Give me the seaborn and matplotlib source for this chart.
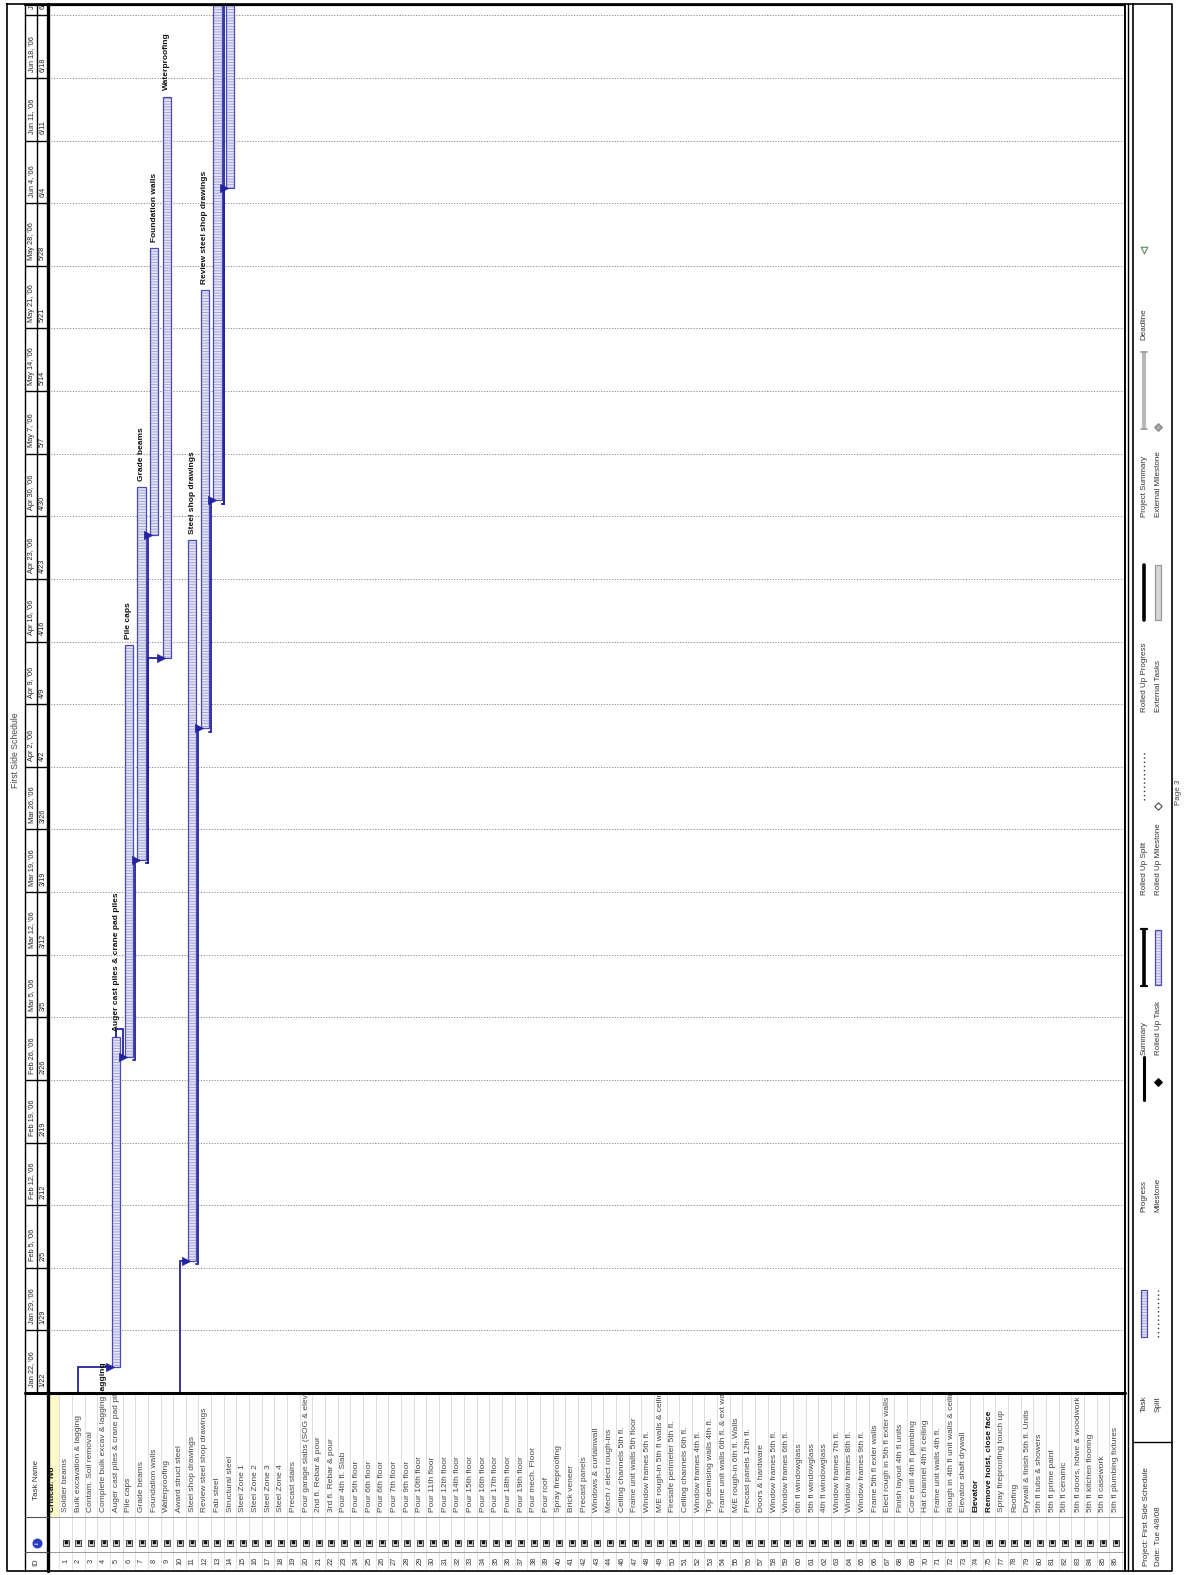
import numpy as np
import pandas as pd
import matplotlib
matplotlib.use("Agg")
import matplotlib.pyplot as plt
import seaborn as sns
from matplotlib.patches import Rectangle

# ---------------- data ----------------
group_label = "Critical: No"
task_ids = list(range(1, 44)) + [44] + list(range(46, 76)) + list(range(77, 87))
task_names = [
    "Soldier beams", "Bulk excavation & lagging", "Contam. Soil removal",
    "Complete bulk excav & lagging", "Auger cast piles & crane pad piles",
    "Pile caps", "Grade beams", "Foundation walls", "Waterproofing",
    "Award struct steel", "Steel shop drawings", "Review steel shop drawings",
    "Fab steel", "Structural steel", "Steel Zone 1", "Steel Zone 2",
    "Steel Zone 3", "Steel Zone 4", "Precast stairs",
    "Pour garage slabs (SOG & elevated)", "2nd fl. Rebar & pour",
    "3rd fl. Rebar & pour", "Pour 4th fl. Slab", "Pour 5th floor",
    "Pour 6th floor", "Pour 6th floor", "Pour 7th floor", "Pour 9th floor",
    "Pour 10th floor", "Pour 11th floor", "Pour 12th floor", "Pour 14th floor",
    "Pour 15th floor", "Pour 16th floor", "Pour 17th floor", "Pour 18th floor",
    "Pour 19th floor", "Pour mech. Floor", "Pour roof", "Spray fireproofing",
    "Brick veneer", "Precast panels", "Windows & curtainwall",
    "Mech / elect rough-ins",
    "Ceiling channels 5th fl.", "Frame unit walls 5th floor",
    "Window frames 5th fl.", "M/E rough-in 5th fl walls & ceilings",
    "Firesafe perimeter 5th fl.", "Ceiling channels 6th fl.",
    "Window frames 4th fl.", "Top demising walls 4th fl.",
    "Frame unit walls 6th fl. & ext walls", "M/E rough-in 6th fl. Walls",
    "Precast panels 12th fl.", "Doors & hardware", "Window frames 5th fl.",
    "Window frames 6th fl.", "6th fl windowglass", "5th fl windowglass",
    "4th fl windowglass", "Window frames 7th fl.", "Window frames 8th fl.",
    "Window frames 9th fl.", "Frame 5th fl exter walls",
    "Elect rough in 5th fl exter walls", "Finish layout 4th fl units",
    "Core drill 4th fl plumbing", "Hat channel 4th fl ceiling",
    "Frame unit walls 4th fl.", "Rough in 4th fl unit walls & ceilings",
    "Elevator shaft drywall", "Elevator", "Remove hoist, close face",
    "Spray fireproofing touch up", "Roofing", "Drywall & finish 5th fl. Units",
    "5th fl tubs & showers", "5th fl prime paint", "5th fl ceramic",
    "5th fl doors, hdwe & woodwork", "5th fl kitchen flooring",
    "5th fl casework", "5th fl plumbing fixtures",
]
bold_ids = [74, 75]
assert len(task_ids) == len(task_names)

# timescale (weekly)
week_dates = ["2006-01-22", "2006-01-29", "2006-02-05", "2006-02-12", "2006-02-19",
              "2006-02-26", "2006-03-05", "2006-03-12", "2006-03-19", "2006-03-26",
              "2006-04-02", "2006-04-09", "2006-04-16", "2006-04-23", "2006-04-30",
              "2006-05-07", "2006-05-14", "2006-05-21", "2006-05-28", "2006-06-04",
              "2006-06-11", "2006-06-18", "2006-06-25"]
week_major = ["Jan 22, '06", "Jan 29, '06", "Feb 5, '06", "Feb 12, '06", "Feb 19, '06",
              "Feb 26, '06", "Mar 5, '06", "Mar 12, '06", "Mar 19, '06", "Mar 26, '06",
              "Apr 2, '06", "Apr 9, '06", "Apr 16, '06", "Apr 23, '06", "Apr 30, '06",
              "May 7, '06", "May 14, '06", "May 21, '06", "May 28, '06", "Jun 4, '06",
              "Jun 11, '06", "Jun 18, '06", "Jun 25, '06"]
week_minor = ["1/22", "1/29", "2/5", "2/12", "2/19", "2/26", "3/5", "3/12", "3/19",
              "3/26", "4/2", "4/9", "4/16", "4/23", "4/30", "5/7", "5/14", "5/21",
              "5/28", "6/4", "6/11", "6/18", "6/25"]

# task bars: start / finish in days after Jan 22 '06 (estimated)
bar_ids = [2, 5, 6, 7, 8, 9, 10, 11, 12, 13, 14, 15]
bar_start = [-60, 2.9, 37.6, 59.6, 95.9, 82.2, -50, 14.8, 74.3, 99.8, 134.7, 170]
bar_finish = [-25, 39.8, 83.6, 101.3, 128.0, 144.9, -20, 95.3, 123.3, 185, 205, 190]

# milestone before the visible range
ms_ids = [4]
ms_day = [-11.3]

# dependency links
link_pred = [2, 10, 5, 6, 7, 7, 11, 12, 13, 13]
link_succ = [5, 11, 6, 7, 8, 9, 12, 13, 14, 15]
link_type = ["FS", "FS", "FS", "SS", "SS", "SS", "SS", "SS", "SS", "SS"]

legend_items = ["Task", "Split", "Progress", "Milestone", "Summary", "Rolled Up Task",
                "Rolled Up Split", "Rolled Up Milestone", "Rolled Up Progress",
                "External Tasks", "Project Summary", "External Milestone", "Deadline"]
title_text = "First Side Schedule"
project_text = "Project: First Side Schedule"
date_text = "Date: Tue 4/8/08"
page_text = "Page 3"

# ---------------- style ----------------
sns.set_theme(style="white")
plt.rcParams["font.family"] = ["Liberation Sans", "DejaVu Sans"]
plt.rcParams["hatch.linewidth"] = 0.6

W, H = 1187, 1575
fig = plt.figure(figsize=(W / 100, H / 100), dpi=100)
fig.patch.set_facecolor("white")


def rect(x0, y0, x1, y1):
    return [x0 / W, 1 - y1 / H, (x1 - x0) / W, (y1 - y0) / H]


CH_L, CH_R, CH_T, CH_B = 48, 1125, 5, 1393
ROW0_PX, ROW_PX = 53, 12.65
DAY_PX = 8.946
XLO = (CH_L - ROW0_PX) / ROW_PX
XHI = (CH_R - ROW0_PX) / ROW_PX
YHI = (CH_B - CH_T) / DAY_PX

rows = [group_label] + task_names
rowpos = {tid: i + 1 for i, tid in enumerate(task_ids)}
name_of = dict(zip(task_ids, task_names))
t0 = pd.Timestamp(week_dates[0])
week_days = [(pd.Timestamp(d) - t0).days for d in week_dates]

BAR_FACE = "#e3e3f7"
BAR_HATCH = "#9d9dd9"
BAR_EDGE = "#4b4bb0"
LINK = "#2323a0"

# ---------------- gantt area ----------------
ax = fig.add_axes(rect(CH_L, CH_T, CH_R, CH_B))
ax.set_xlim(XLO, XHI)
ax.set_ylim(0, YHI)
ax.axis("off")
for d in week_days[1:]:
    ax.axhline(d, color="#8a8a8a", lw=0.7, ls=(0, (1.2, 1.6)), zorder=1)

bx = np.array([rowpos[i] for i in bar_ids], dtype=float)
bs = np.array(bar_start, dtype=float)
bf = np.array(bar_finish, dtype=float)
BW = 0.66
ax.bar(bx, bf - bs, bottom=bs, width=BW, color=BAR_FACE, edgecolor=BAR_HATCH,
       linewidth=0, hatch="------", zorder=3)
ax.bar(bx, bf - bs, bottom=bs, width=BW, fill=False, edgecolor=BAR_EDGE,
       linewidth=0.9, zorder=4)

for tid, fin in zip(bar_ids, bar_finish):
    if 0 < fin < YHI - 2:
        ax.text(rowpos[tid], fin + 0.7, name_of[tid], rotation=90,
                rotation_mode="anchor", ha="left", va="center", fontsize=6,
                fontweight="bold", color="#111", clip_on=True, zorder=6)
for tid, d in zip(ms_ids, ms_day):
    ax.scatter([rowpos[tid]], [d], marker="D", s=20, color="black", zorder=6)
    ax.text(rowpos[tid], d + 0.7, name_of[tid], rotation=90, rotation_mode="anchor",
            ha="left", va="center", fontsize=6, fontweight="bold", color="#111",
            clip_on=True, zorder=6)

start_of = dict(zip(bar_ids, bar_start))
finish_of = dict(zip(bar_ids, bar_finish))
arr_x, arr_y = [], []
for p, s, t in zip(link_pred, link_succ, link_type):
    xp, xs = rowpos[p], rowpos[s]
    sp, fp, ss = start_of[p], finish_of[p], start_of[s]
    if t == "FS" and ss > fp + 1:
        path = [(xp, fp), (xp, ss), (xs - BW / 2, ss)]
    elif t == "FS":
        path = [(xp, fp), (xp, fp + 0.9), (xp + 0.5, fp + 0.9), (xp + 0.5, ss),
                (xs - BW / 2, ss)]
    else:
        path = [(xp + BW / 2, sp - 0.4), (xp + 0.5, sp - 0.4), (xp + 0.5, ss),
                (xs - BW / 2, ss)]
    px, py = zip(*path)
    ax.plot(px, py, color=LINK, lw=1.3, zorder=5, solid_joinstyle="miter")
    arr_x.append(xs - BW / 2 - 0.13)
    arr_y.append(ss)
sns.scatterplot(x=arr_x, y=arr_y, marker=">", s=34, color=LINK, edgecolor=LINK,
                linewidth=0.5, ax=ax, zorder=7, legend=False)
ax.set_xlim(XLO, XHI)
ax.set_ylim(0, YHI)
ax.axis("off")

# ---------------- timescale header ----------------
hx = fig.add_axes(rect(25, CH_T, CH_L, CH_B))
hx.set_xlim(0, 1)
hx.set_ylim(0, YHI)
hx.axis("off")
for d in week_days:
    hx.axhline(d, color="black", lw=1.0)
hx.axvline(0.52, color="black", lw=1.0)
for d, mj, mn in zip(week_days, week_major, week_minor):
    hx.text(0.27, d + 0.7, mj, rotation=90, rotation_mode="anchor", ha="left",
            va="center", fontsize=5.3, color="#222", clip_on=True)
    hx.text(0.77, d + 0.7, mn, rotation=90, rotation_mode="anchor", ha="left",
            va="center", fontsize=5.3, color="#222", clip_on=True)

# ---------------- task table ----------------
TB_T, NAME_B, ICON_B, TB_B = CH_B, 1517, 1552, 1570
tx = fig.add_axes(rect(CH_L, TB_T, CH_R, TB_B))
tx.set_xlim(XLO, XHI)
tx.set_ylim(TB_B, TB_T)
tx.axis("off")
tx.add_patch(Rectangle((-0.5, TB_T), 1.0, NAME_B - TB_T, facecolor="#fcf9c8",
                       edgecolor="none", zorder=0))
for k in range(len(rows)):
    tx.plot([k + 0.5, k + 0.5], [TB_T, TB_B], color="#d2d2d2", lw=0.5, zorder=1)
tx.axhline(NAME_B, color="#9a9a9a", lw=0.7)
tx.axhline(ICON_B, color="#9a9a9a", lw=0.7)
for tid in task_ids:
    k = rowpos[tid]
    tx.text(k, 1561, str(tid), rotation=90, ha="center", va="center",
            fontsize=5.3, color="#333")
ic_x = [rowpos[t] for t in task_ids]
tx.scatter(ic_x, [1543] * len(ic_x), marker="s", s=20, facecolor="#d4d4d4",
           edgecolor="#333", linewidths=0.6, zorder=3)
tx.scatter(ic_x, [1541.5] * len(ic_x), marker="s", s=3, color="#111", zorder=4)

nx = fig.add_axes(rect(CH_L, TB_T, CH_R, NAME_B))
nx.set_xlim(XLO, XHI)
nx.set_ylim(NAME_B, TB_T)
nx.axis("off")
for k, nm in enumerate(rows):
    tid = task_ids[k - 1] if k > 0 else None
    bold = (k == 0) or (tid in bold_ids)
    nx.text(k, NAME_B - 5, nm, rotation=90, rotation_mode="anchor", ha="left",
            va="center", fontsize=6, color="#111" if bold else "#444",
            fontweight="bold" if bold else "normal", clip_on=True)

# ---------------- overlay: frames, headers, legend ----------------
ov = fig.add_axes([0, 0, 1, 1])
ov.set_xlim(0, W)
ov.set_ylim(H, 0)
ov.axis("off")
ov.patch.set_alpha(0)
ov.set_zorder(10)

L, R, T, B = 7, 1172, 4, 1571
ov.plot([L, R, R, L, L], [T, T, B, B, T], color="black", lw=1.2)
ov.plot([25, 25], [T, B], color="black", lw=1.0)
ov.plot([CH_L, CH_L], [T, B], color="black", lw=2.4)
ov.plot([25, CH_R], [CH_B, CH_B], color="black", lw=2.2)
ov.plot([25, CH_R], [T + 1, T + 1], color="black", lw=1.6)
ov.plot([CH_R, CH_R], [T, B], color="black", lw=1.4)
ov.plot([CH_R + 3, CH_R + 3], [T, B], color="black", lw=1.0)
ov.plot([1133, 1133], [T, B], color="black", lw=1.2)
ov.plot([25, CH_L], [NAME_B, NAME_B], color="#555", lw=0.8)
ov.plot([25, CH_L], [ICON_B, ICON_B], color="#555", lw=0.8)

# table column headers
ov.text(36, 1562, "ID", rotation=90, ha="center", va="center", fontsize=5.5, color="#333")
ov.scatter([37], [1543], s=38, color="#2a3cc0", zorder=3)
ov.text(37, 1543, "i", rotation=90, ha="center", va="center", fontsize=4.5,
        color="white", fontweight="bold", zorder=4)
ov.text(36, 1500, "Task Name", rotation=90, rotation_mode="anchor", ha="left",
        va="center", fontsize=5.8, color="#333")

# title and page number
ov.text(16, 750, title_text, rotation=90, ha="center", va="center", fontsize=6.2,
        color="#444")
ov.text(1179, 792, page_text, rotation=90, ha="center", va="center", fontsize=5.8,
        color="#444")

# legend
ov.plot([1133, R], [1442, 1442], color="black", lw=1.0)
ov.text(1146, 1566, project_text, rotation=90, rotation_mode="anchor", ha="left",
        va="center", fontsize=5.8, color="#333")
ov.text(1158, 1566, date_text, rotation=90, rotation_mode="anchor", ha="left",
        va="center", fontsize=5.8, color="#333")

LX1, LX2 = 1144, 1158
leg_pos = [(LX1, 1412), (LX2, 1412), (LX1, 1212), (LX2, 1212), (LX1, 1055),
           (LX2, 1055), (LX1, 895), (LX2, 895), (LX1, 712), (LX2, 712),
           (LX1, 517), (LX2, 517), (LX1, 340)]
for name, (lx, ly) in zip(legend_items, leg_pos):
    ov.text(lx, ly, name, rotation=90, rotation_mode="anchor", ha="left",
            va="center", fontsize=5.8, color="#333")


def bar_sym(x, y0, y1, face, edge, hatch=None):
    ov.add_patch(Rectangle((x - 3.2, y1), 6.4, y0 - y1, facecolor=face,
                           edgecolor=BAR_HATCH if hatch else "none", hatch=hatch,
                           lw=0))
    ov.add_patch(Rectangle((x - 3.2, y1), 6.4, y0 - y1, fill=False, edgecolor=edge,
                           lw=0.9))


bar_sym(LX1, 1337, 1290, BAR_FACE, BAR_EDGE, hatch="------")
ov.plot([LX2, LX2], [1337, 1290], color="#333", lw=1.0, ls=(0, (1, 2)))
ov.plot([LX1, LX1], [1100, 1057], color="black", lw=2.2)
ov.scatter([LX2], [1082], marker="D", s=14, color="black")
ov.plot([LX1, LX1], [985, 930], color="black", lw=2.6)
ov.plot([LX1 - 3, LX1 + 3], [986, 986], color="black", lw=1.6)
ov.plot([LX1 - 3, LX1 + 3], [929, 929], color="black", lw=1.6)
bar_sym(LX2, 985, 930, BAR_FACE, BAR_EDGE, hatch="------")
ov.plot([LX1, LX1], [800, 750], color="#333", lw=1.0, ls=(0, (1, 2)))
ov.scatter([LX2], [806], marker="D", s=14, facecolor="white", edgecolor="#333",
           linewidths=0.7)
ov.plot([LX1, LX1], [620, 565], color="black", lw=2.6)
bar_sym(LX2, 620, 565, "#d6d6d6", "#9a9a9a")
ov.plot([LX1, LX1], [428, 353], color="#b8b8b8", lw=3.0)
ov.plot([LX1 - 3, LX1 + 3], [429, 429], color="#999", lw=1.2)
ov.plot([LX1 - 3, LX1 + 3], [352, 352], color="#999", lw=1.2)
ov.scatter([LX2], [427], marker="D", s=14, color="#aaaaaa", edgecolor="#888")
ov.scatter([LX1], [250], marker="v", s=22, facecolor="white", edgecolor="#5a8a5a",
           linewidths=0.8)

fig.savefig("out.png", dpi=100, facecolor="white")
